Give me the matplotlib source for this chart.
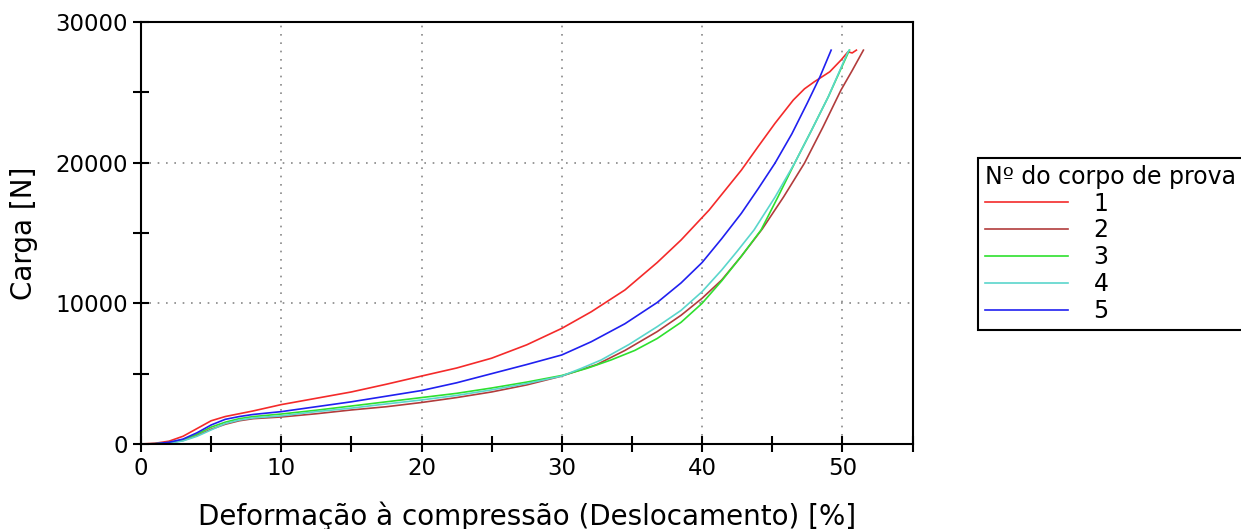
import matplotlib
matplotlib.use('Agg')
import matplotlib.pyplot as plt
from matplotlib.ticker import MultipleLocator

# deformação [%] e carga [N], um par de listas por corpo de prova
x1 = [0, 1, 2, 3, 4, 5, 6, 7, 8, 10, 12.5, 15, 17.5, 20, 22.5, 25, 27.5, 30, 32.1, 34.5, 36.8, 38.5,
      40.5, 42.8, 44, 45.2, 46.5, 47.3, 48, 49.1, 49.9, 50.4, 50.7, 51.0]
y1 = [0, 50, 200, 550, 1100, 1650, 1950, 2150, 2350, 2800, 3250, 3700, 4250, 4830, 5400, 6100, 7050, 8220,
      9400, 10950, 12900, 14500, 16630, 19470, 21150, 22800, 24450, 25250, 25750, 26460, 27290, 27880,
      27800, 28000]

x2 = [0, 1, 2, 3, 4, 5, 6, 7, 8, 10, 12.5, 15, 17.5, 20, 22.5, 25, 27.5, 30, 32.5, 34.5, 36.8, 38.5,
      40, 41.4, 42.8, 44.3, 45.8, 47.3, 48.6, 49.9, 50.7, 51.5]
y2 = [0, 20, 80, 250, 600, 1050, 1400, 1650, 1800, 1920, 2150, 2420, 2650, 2950, 3300, 3700, 4200, 4830,
      5650, 6650, 7990, 9150, 10360, 11660, 13350, 15300, 17550, 19970, 22500, 25160, 26550, 28000]

x3 = [0, 1, 2, 3, 4, 5, 6, 7, 8, 10, 12.5, 15, 17.5, 20, 22.5, 25, 27.5, 30, 31.8, 33.5, 35.2, 36.8,
      38.5, 40, 41.4, 42.8, 44.2, 45.4, 46.6, 47.8, 49, 50.5]
y3 = [0, 20, 100, 300, 700, 1200, 1550, 1800, 1950, 2130, 2400, 2700, 3000, 3300, 3600, 3980, 4400, 4870,
      5380, 5970, 6650, 7500, 8650, 10000, 11600, 13350, 15210, 17550, 19970, 22300, 24690, 28000]

x4 = [0, 1, 2, 3, 4, 5, 6, 7, 8, 10, 12.5, 15, 17.5, 20, 22.5, 25, 27.5, 30, 31.4, 32.8, 34.8, 36.8,
      38.5, 40, 41.4, 42.5, 43.7, 45.2, 46.6, 47.8, 49, 50.4, 50.5]
y4 = [0, 10, 60, 220, 550, 1000, 1450, 1700, 1850, 2000, 2300, 2550, 2850, 3130, 3450, 3850, 4300, 4830,
      5380, 5970, 7080, 8340, 9500, 10830, 12370, 13700, 15210, 17550, 19970, 22300, 24690, 27880, 28000]

x5 = [0, 1, 2, 3, 4, 5, 6, 7, 8, 10, 12.5, 15, 17.5, 20, 22.5, 25, 27.5, 30, 32.1, 34.5, 36.8, 38.5,
      40, 41.4, 42.8, 44, 45.2, 46.4, 47.5, 48.4, 49.2]
y5 = [0, 20, 120, 350, 800, 1350, 1750, 1950, 2100, 2300, 2650, 3000, 3400, 3800, 4350, 5000, 5650, 6330,
      7270, 8550, 10060, 11450, 12900, 14600, 16400, 18150, 19970, 22050, 24240, 26100, 28000]

labels = ['1', '2', '3', '4', '5']
colors = ['#f42a2a', '#b23c3c', '#2ee02e', '#5ad6cc', '#2020f0']

fig = plt.figure(figsize=(12.41, 5.29), dpi=100)
ax = fig.add_axes([0.1136, 0.1607, 0.6217, 0.7977])

for xs, ys, lab, col in zip([x1, x2, x3, x4, x5], [y1, y2, y3, y4, y5], labels, colors):
    ax.plot(xs, ys, color=col, lw=1.2, label=lab)

ax.set_xlim(0, 55)
ax.set_ylim(0, 30000)
ax.xaxis.set_major_locator(MultipleLocator(10))
ax.xaxis.set_minor_locator(MultipleLocator(5))
ax.yaxis.set_major_locator(MultipleLocator(10000))
ax.yaxis.set_minor_locator(MultipleLocator(5000))
ax.tick_params(which='both', direction='inout', width=1.5, length=11, labelsize=16.5, pad=4)
ax.grid(which='major', linestyle=(0, (1, 4)), color='#888888', lw=1.2)
for sp in ax.spines.values():
    sp.set_linewidth(1.5)

ax.set_xlabel('Deformação à compressão (Deslocamento) [%]', fontsize=20, labelpad=15)
ax.set_ylabel('Carga [N]', fontsize=20, labelpad=12)

leg = fig.legend(loc='upper left', bbox_to_anchor=(0.788, 0.702), title='Nº do corpo de prova',
                 fontsize=17, title_fontsize=17, handlelength=3.5, handletextpad=1.1,
                 labelspacing=0.12, borderpad=0.3, borderaxespad=0, fancybox=False,
                 edgecolor='black', framealpha=1, alignment='left')
leg.get_frame().set_linewidth(1.5)

fig.savefig('out.png', dpi=100)
